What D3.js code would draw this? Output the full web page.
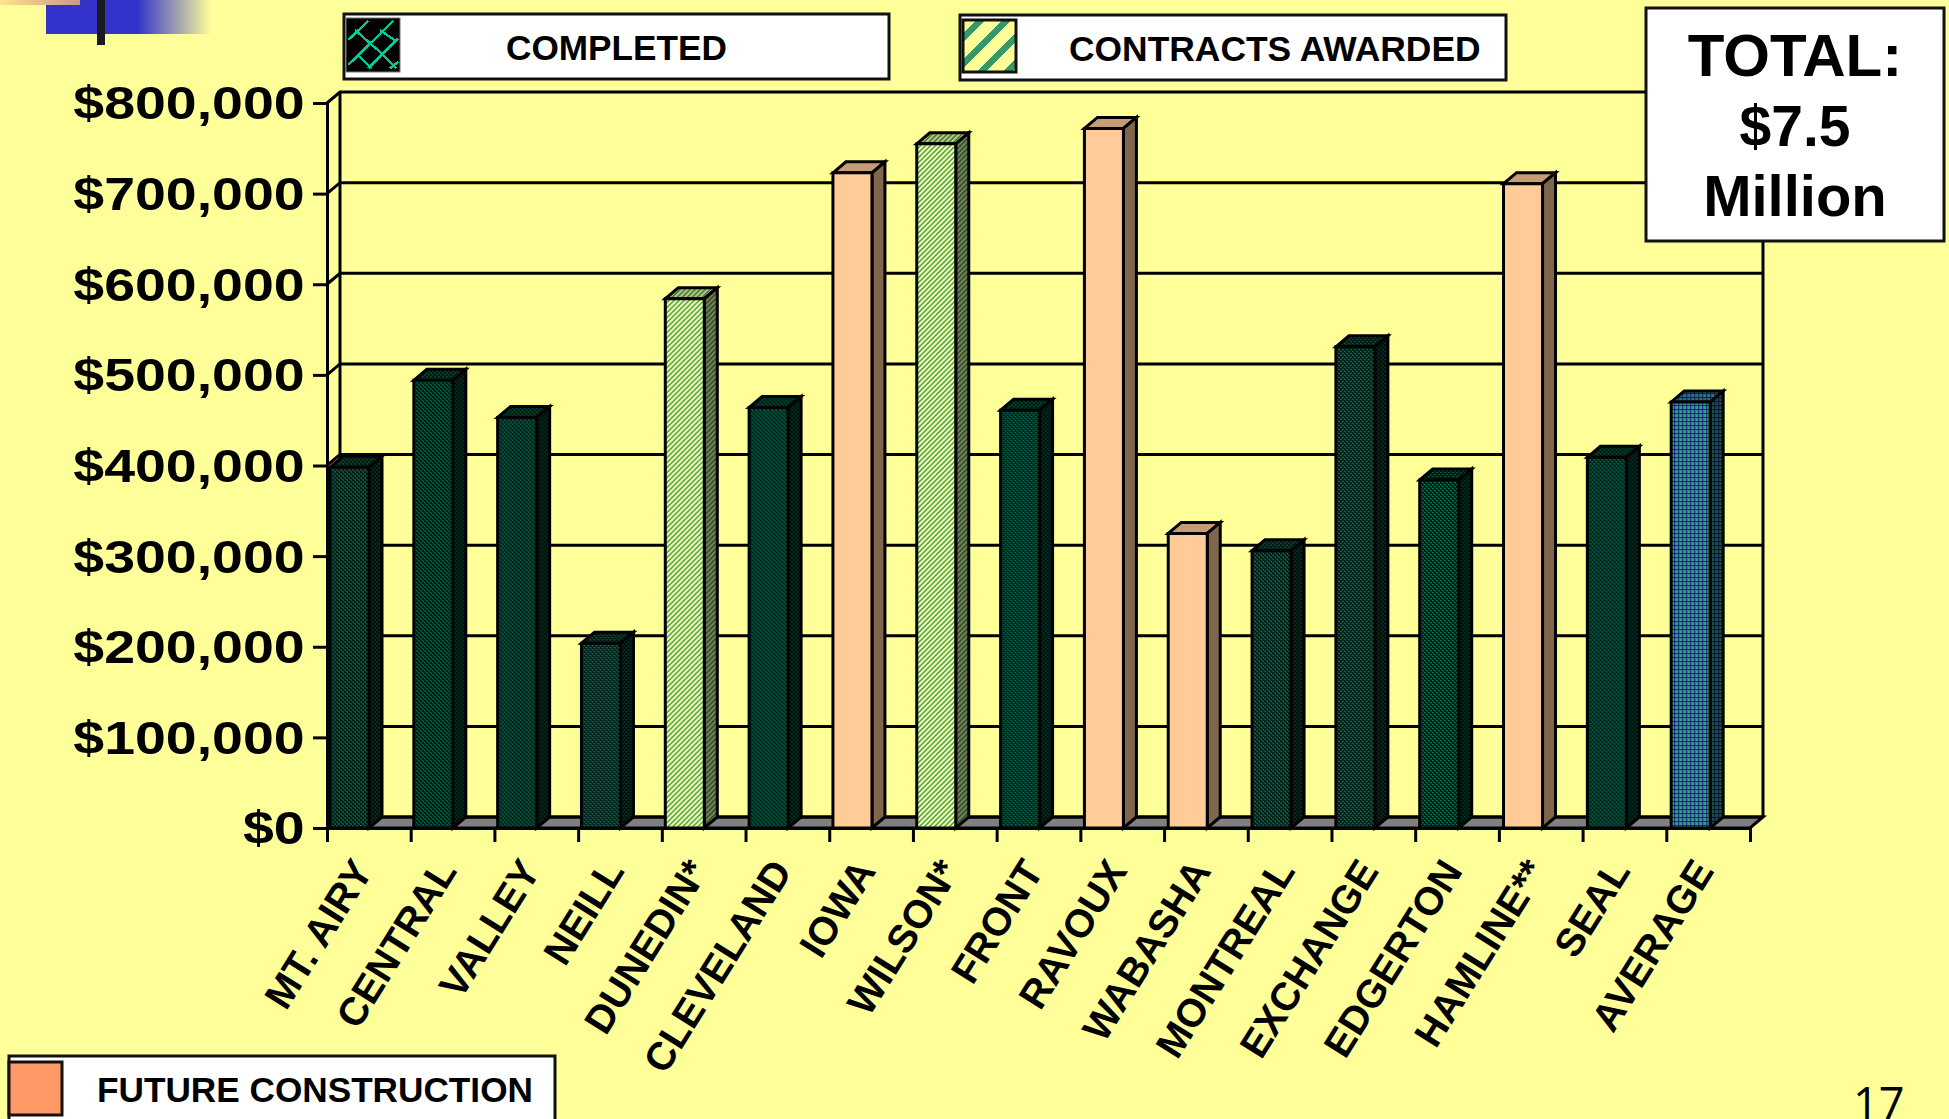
<!DOCTYPE html>
<html>
<head>
<meta charset="utf-8">
<script src="https://cdn.jsdelivr.net/npm/d3@7"></script>
<style>
  html, body { margin: 0; padding: 0; background: #ffff99; overflow: hidden; }
  svg { display: block; font-family: "Liberation Sans", Arial, sans-serif; font-weight: bold; }
</style>
</head>
<body>
<script>
var categories = ["MT. AIRY", "CENTRAL", "VALLEY", "NEILL", "DUNEDIN*", "CLEVELAND", "IOWA", "WILSON*", "FRONT",
    "RAVOUX", "WABASHA", "MONTREAL", "EXCHANGE", "EDGERTON", "HAMLINE**", "SEAL", "AVERAGE"];
var values = [398000, 494000, 453000, 204000, 584000, 464000, 723000, 755000, 461000,
    772000, 325000, 306000, 531000, 384000, 711000, 409000, 470000];
var kinds = ["done", "done", "done", "done", "contract", "done", "future", "contract", "done",
    "future", "future", "done", "done", "done", "future", "done", "average"];
var yTicks = [0, 100000, 200000, 300000, 400000, 500000, 600000, 700000, 800000];

var width = 1949,
    height = 1119,
    depthX = 13,
    depthY = 11,
    barWidth = 39;

var svg = d3.select("body").append("svg")
    .attr("width", width)
    .attr("height", height);

var x = d3.scaleBand().domain(categories).range([327, 1752]);
var y = d3.scaleLinear().domain([0, 800000]).range([828, 103]);
var xTickScale = d3.scaleLinear().domain([0, categories.length]).range([327, 1750]);

var defs = svg.append("defs");

function pattern(id, size, bg, cells) {
  var p = defs.append("pattern")
      .attr("id", id)
      .attr("patternUnits", "userSpaceOnUse")
      .attr("width", size)
      .attr("height", size);
  p.append("rect").attr("width", size).attr("height", size).attr("fill", bg);
  cells.forEach((c) => p.append("rect")
      .attr("x", c[0]).attr("y", c[1]).attr("width", c[2] || 1).attr("height", c[3] || 1)
      .attr("fill", c[4]));
}

pattern("done", 4, "#001a12", [[0, 0, 2, 1, "#007a5c"], [2, 2, 2, 1, "#007a5c"], [1, 1, 1, 1, "#00513d"], [3, 3, 1, 1, "#00513d"]]);
pattern("contract", 5, "#ffff99", d3.range(5).flatMap((i) => [[i, 4 - i, 1, 1, "#339966"], [i, (5 - i) % 5, 1, 1, "#339966"]]));
pattern("average", 4, "#33a080", [[0, 3, 4, 1, "#1a1a90"], [3, 0, 1, 4, "#1a1a90"]]);
pattern("future", 4, "#ffcc99", []);

var stripes = defs.append("pattern").attr("id", "swatchContract")
    .attr("patternUnits", "userSpaceOnUse").attr("width", 26).attr("height", 26)
    .attr("x", 955).attr("y", 20);
stripes.append("rect").attr("width", 26).attr("height", 26).attr("fill", "#ffff99");
stripes.append("path").attr("d", "M-6.5 6.5L6.5 -6.5M-6.5 32.5L32.5 -6.5M19.5 32.5L32.5 19.5")
    .attr("stroke", "#339966").attr("stroke-width", 7).attr("shape-rendering", "crispEdges");

// corner decoration of the slide
var blueFade = defs.append("linearGradient").attr("id", "blueFade");
blueFade.append("stop").attr("offset", "0.55").attr("stop-color", "#3333cc");
blueFade.append("stop").attr("offset", "1").attr("stop-color", "#ffff99");
var peachFade = defs.append("linearGradient").attr("id", "peachFade");
peachFade.append("stop").attr("offset", "0").attr("stop-color", "#ffe28f");
peachFade.append("stop").attr("offset", "1").attr("stop-color", "#cc9988");

svg.append("rect").attr("width", width).attr("height", height).attr("fill", "#ffff99");
svg.append("rect").attr("x", 46).attr("width", 166).attr("height", 34).attr("fill", "url(#blueFade)");
svg.append("rect").attr("width", 80).attr("height", 5).attr("fill", "url(#peachFade)");
svg.append("rect").attr("x", 97).attr("width", 8).attr("height", 45).attr("fill", "#1a1a1a");

// back wall, floor and gridlines
var x0 = xTickScale.range()[0], x1 = xTickScale.range()[1];
var lineStyle = (s) => s.attr("stroke", "#000").attr("stroke-width", 3).attr("fill", "none");

svg.append("path")
    .attr("d", `M${x0},${y(0)}L${x1},${y(0)}L${x1 + depthX},${y(0) - depthY}L${x0 + depthX},${y(0) - depthY}Z`)
    .call(lineStyle).attr("fill", "#808080");

svg.append("g").selectAll("path")
    .data(yTicks)
  .enter().append("path")
    .attr("d", (d) => `M${x0},${y(d)}L${x0 + depthX},${y(d) - depthY}L${x1 + depthX},${y(d) - depthY}`)
    .call(lineStyle);

svg.append("path")
    .attr("d", `M${x0 + depthX},${y(800000) - depthY}V${y(0) - depthY}M${x1 + depthX},${y(800000) - depthY}V${y(0) - depthY}`)
    .call(lineStyle);

// axes
var yAxis = svg.append("g")
    .attr("transform", `translate(${x0},0)`)
    .call(d3.axisLeft(y).tickValues(yTicks).tickSize(14).tickPadding(5).tickFormat(d3.format("$,d")));
yAxis.selectAll("line, path").attr("stroke", "#000").attr("stroke-width", 3);
yAxis.selectAll("text")
    .attr("fill", "#000")
    .attr("font-size", 47)
    .attr("dy", ".34em")
    .attr("font-family", "Liberation Sans")
    .attr("font-weight", "bold")
    .attr("transform", "scale(1.18,1)");

var xAxis = svg.append("g")
    .attr("transform", `translate(0,${y(0)})`)
    .call(d3.axisBottom(xTickScale).ticks(categories.length).tickSize(14).tickFormat(""));
xAxis.selectAll("line, path").attr("stroke", "#000").attr("stroke-width", 3);

// bars
var shade = {top: 0.23, side: 0.5};

var bar = svg.selectAll(".bar")
    .data(categories.map((name, i) => ({name: name, value: values[i], kind: kinds[i]})))
  .enter().append("g")
    .attr("class", "bar")
    .attr("transform", (d) => `translate(${x(d.name) + 3},${y(d.value)})`);

function frontFace(d) { return `M0,0H${barWidth}V${y(0) - y(d.value)}H0Z`; }
function topFace(d) { return `M0,0L${depthX},${-depthY}H${barWidth + depthX}L${barWidth},0Z`; }
function sideFace(d) { return `M${barWidth},0L${barWidth + depthX},${-depthY}V${y(0) - y(d.value) - depthY}L${barWidth},${y(0) - y(d.value)}Z`; }

bar.append("path").attr("d", topFace).attr("fill", (d) => `url(#${d.kind})`);
bar.append("path").attr("d", topFace).attr("fill", "#000").attr("fill-opacity", shade.top).attr("stroke", "#000").attr("stroke-width", 3);
bar.append("path").attr("d", sideFace).attr("fill", (d) => `url(#${d.kind})`);
bar.append("path").attr("d", sideFace).attr("fill", "#000").attr("fill-opacity", shade.side).attr("stroke", "#000").attr("stroke-width", 3);
bar.append("path").attr("d", frontFace).attr("fill", (d) => `url(#${d.kind})`).attr("stroke", "#000").attr("stroke-width", 3);

// rotated category labels
svg.append("g").selectAll("text")
    .data(categories)
  .enter().append("text")
    .attr("transform", (d) => `translate(${x(d) + x.bandwidth() / 2 + 5},871) rotate(-58)`)
    .attr("text-anchor", "end")
    .attr("font-size", 39.5)
    .text((d) => d);

// legend boxes
function box(bx, by, w, h) {
  svg.append("rect")
      .attr("x", bx).attr("y", by).attr("width", w).attr("height", h)
      .attr("fill", "#fff").attr("stroke", "#111").attr("stroke-width", 3);
}

function label(text, lx, ly, size) {
  return svg.append("text").attr("x", lx).attr("y", ly).attr("font-size", size).text(text);
}

box(344, 14, 545, 65);
svg.append("rect").attr("x", 346).attr("y", 18).attr("width", 54).attr("height", 54)
    .attr("fill", "#000").attr("stroke", "#777").attr("stroke-width", 1);
// lattice on the completed swatch
svg.append("path")
    .attr("transform", "translate(300,0) scale(0.3333)")
    .attr("d", "M145 120L205 62M145 195L280 62M205 205L295 115M270 205L295 185M165 90L245 160M240 90L290 125M175 165L215 205M250 165L290 205")
    .attr("fill", "none").attr("stroke", "#00cc99").attr("stroke-width", 7)
    .attr("shape-rendering", "crispEdges");
label("COMPLETED", 506, 60, 35.2);

box(960, 15, 546, 65);
svg.append("rect").attr("x", 963).attr("y", 20).attr("width", 53).attr("height", 52)
    .attr("fill", "url(#swatchContract)").attr("stroke", "#111").attr("stroke-width", 3);
label("CONTRACTS AWARDED", 1069, 61, 35.4);

box(9, 1056, 546, 80);
svg.append("rect").attr("x", 9).attr("y", 1062).attr("width", 53).attr("height", 53)
    .attr("fill", "#ff9966").attr("stroke", "#111").attr("stroke-width", 3);
label("FUTURE CONSTRUCTION", 97, 1102, 35.2);

// total box
box(1646, 8, 298, 233);
[["TOTAL:", 60], ["$7.5", 57], ["Million", 58]].forEach((t, i) => {
  label(t[0], 1795, 76 + i * 70, t[1]).attr("text-anchor", "middle");
});

// page number
svg.append("text").attr("x", 1853).attr("y", 1120)
    .attr("font-family", "Open Sans").attr("font-weight", "normal").attr("font-size", 45).text("17");
</script>
</body>
</html>
